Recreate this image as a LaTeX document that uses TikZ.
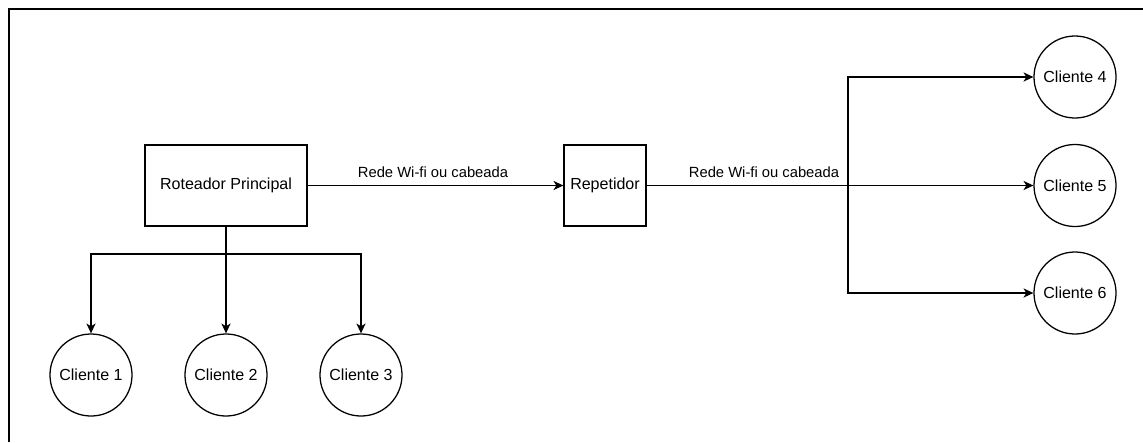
\documentclass[tikz,border=0pt]{standalone}
\usepackage{fontspec}
\setmainfont{Liberation Sans}
\usetikzlibrary{arrows.meta}

\begin{document}
\begin{tikzpicture}[x=0.025cm,y=-0.025cm,
  line width=0.9pt,
  >={Stealth[length=7pt,width=6.5pt,inset=2pt]},
  box/.style={draw, rectangle, minimum height=2.025cm, inner sep=0pt, font=\fontsize{11.4}{13}\selectfont},
  cliente/.style={draw, circle, minimum size=2.05cm, inner sep=0pt, font=\fontsize{11.4}{13}\selectfont},
  rede/.style={font=\fontsize{10.5}{12}\selectfont}]
\useasboundingbox (0,0) rectangle (1143,442);
\draw[line width=1.6pt] (9,442) -- (9,9) -- (1143,9);

\node[box, minimum width=4.05cm] (router) at (226,185.5) {Roteador Principal};
\node[box, minimum width=2.05cm] (rep) at (605,185.5) {Repetidor};

\node[cliente] (c1) at (91,375) {Cliente 1};
\node[cliente] (c2) at (226,375) {Cliente 2};
\node[cliente] (c3) at (361,375) {Cliente 3};

\node[cliente] (c4) at (1075,77) {Cliente 4};
\node[cliente] (c5) at (1075,185.5) {Cliente 5};
\node[cliente] (c6) at (1075,293) {Cliente 6};

\node[rede] (rede1) at (433,172) {Rede Wi-fi ou cabeada};
\node[rede] (rede2) at (764,172) {Rede Wi-fi ou cabeada};

\coordinate (bus) at (226,254);
\coordinate (split) at (848,185.5);

\draw[->] (router) -- (rep);
\draw[->] (rep) -- (c5);
\draw[->] (split) |- (c4);
\draw[->] (split) |- (c6);

\draw (router) -- (bus);
\draw[->] (bus) -| (c1);
\draw[->] (bus) -- (c2);
\draw[->] (bus) -| (c3);
\end{tikzpicture}
\end{document}
